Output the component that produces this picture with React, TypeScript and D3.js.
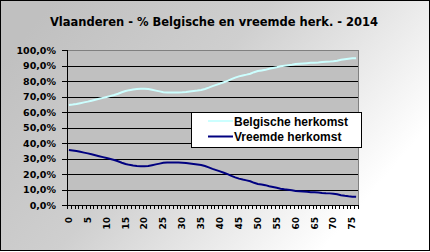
import React from "react";
import * as d3 from "d3";

const ages: number[] = Array.from({ length: 77 }, (_, i) => i);
const belgisch: number[] = [
  64.5, 64.8, 65.2, 65.7, 66.2, 66.7, 67.3, 67.9, 68.5, 69.1,
  69.7, 70.3, 71.0, 71.8, 72.7, 73.5, 74.1, 74.5, 74.8, 75.0,
  75.0, 74.8, 74.3, 73.8, 73.3, 72.8, 72.6, 72.6, 72.6, 72.6,
  72.7, 72.9, 73.2, 73.5, 73.8, 74.2, 74.8, 75.7, 76.7, 77.5,
  78.3, 79.2, 80.1, 81.2, 82.2, 83.0, 83.6, 84.1, 84.7, 85.7,
  86.4, 86.8, 87.2, 87.9, 88.4, 88.9, 89.5, 89.9, 90.2, 90.5,
  90.9, 91.1, 91.3, 91.5, 91.7, 91.8, 91.9, 92.2, 92.4, 92.5,
  92.7, 93.1, 93.7, 94.1, 94.4, 94.6, 94.7,
];
const vreemd: number[] = [
  35.5, 35.2, 34.8, 34.3, 33.8, 33.3, 32.7, 32.1, 31.5, 30.9,
  30.3, 29.7, 29.0, 28.2, 27.3, 26.5, 25.9, 25.5, 25.2, 25.0,
  25.0, 25.2, 25.7, 26.2, 26.7, 27.2, 27.4, 27.4, 27.4, 27.4,
  27.3, 27.1, 26.8, 26.5, 26.2, 25.8, 25.2, 24.3, 23.3, 22.5,
  21.7, 20.8, 19.9, 18.8, 17.8, 17.0, 16.4, 15.9, 15.3, 14.3,
  13.6, 13.2, 12.8, 12.1, 11.6, 11.1, 10.5, 10.1, 9.8, 9.5,
  9.1, 8.9, 8.7, 8.5, 8.3, 8.2, 8.1, 7.8, 7.6, 7.5,
  7.3, 6.9, 6.3, 5.9, 5.6, 5.4, 5.3,
];
const yTicks: number[] = [0, 10, 20, 30, 40, 50, 60, 70, 80, 90, 100];
const seriesNames: string[] = ["Belgische herkomst", "Vreemde herkomst"];
const seriesColors: string[] = ["#ccffff", "#000080"];
const title = "Vlaanderen - % Belgische en vreemde herk. - 2014";

export default function App() {
  const W = 430;
  const H = 252;
  const left = 67;
  const right = 358;
  const top = 50;
  const bottom = 205;

  const x = d3.scaleBand<number>().domain(ages).range([left, right]).padding(0);
  const y = d3.scaleLinear().domain([0, 100]).range([bottom, top]);
  const bw = x.bandwidth();
  const cx = (a: number) => (x(a) as number) + bw / 2;

  const line = d3
    .line<number>()
    .x((_, i) => cx(ages[i]))
    .y((d) => y(d));

  const pixelFont = "'DejaVu Sans', Verdana, sans-serif";
  const arialFont = "'Liberation Sans', Arial, sans-serif";

  const boundaries = [...ages.map((a) => x(a) as number), right];

  return (
    <div style={{ position: "absolute", left: 0, top: 0 }}>
      <svg width={W} height={H} style={{ display: "block" }}>
        <defs>
          <linearGradient id="bg" x1="0.05" y1="0.15" x2="0.95" y2="0.6">
            <stop offset="0" stopColor="#c0c0c0" />
            <stop offset="0.45" stopColor="#cfcfcf" />
            <stop offset="1" stopColor="#ffffff" />
          </linearGradient>
        </defs>
        <rect x={0.5} y={0.5} width={W - 1} height={H - 2} fill="url(#bg)" stroke="#000" strokeWidth={1} />
        <text
          x={214}
          y={26}
          textAnchor="middle"
          fontFamily={pixelFont}
          fontWeight="bold"
          fontSize={11.5}
          fill="#000"
        >
          {title}
        </text>

        {/* plot area */}
        <rect x={left} y={top} width={right - left} height={bottom - top} fill="#c0c0c0" />
        {yTicks
          .filter((t) => t > 0 && t < 100)
          .map((t) => (
            <line key={t} x1={left} x2={right} y1={Math.round(y(t)) + 0.5} y2={Math.round(y(t)) + 0.5} stroke="#000" strokeWidth={1} />
          ))}
        <line x1={left} x2={right + 0.5} y1={top + 0.5} y2={top + 0.5} stroke="#808080" />
        <line x1={right + 0.5} x2={right + 0.5} y1={top} y2={bottom} stroke="#808080" />
        <line x1={left + 0.5} x2={left + 0.5} y1={top} y2={bottom + 1} stroke="#000" />
        <line x1={left} x2={right + 1} y1={bottom + 0.5} y2={bottom + 0.5} stroke="#000" />

        {/* y ticks and labels */}
        {yTicks.map((t) => (
          <g key={t}>
            <line x1={62} x2={left} y1={Math.round(y(t)) + 0.5} y2={Math.round(y(t)) + 0.5} stroke="#000" />
            <text
              x={56}
              y={y(t) + 3.5}
              textAnchor="end"
              fontFamily={pixelFont}
              fontWeight="bold"
              fontSize={9.5}
              fill="#000"
            >
              {t.toFixed(1).replace(".", ",") + "%"}
            </text>
          </g>
        ))}

        {/* x ticks */}
        {boundaries.map((b, i) => (
          <line key={i} x1={Math.round(b) + 0.5} x2={Math.round(b) + 0.5} y1={bottom} y2={bottom + 4} stroke="#000" />
        ))}
        {ages
          .filter((a) => a % 5 === 0)
          .map((a) => (
            <text
              key={a}
              transform={`translate(${cx(a) + 3},${217}) rotate(-90)`}
              textAnchor="end"
              fontFamily={pixelFont}
              fontWeight="bold"
              fontSize={9}
              fill="#000"
            >
              {a}
            </text>
          ))}

        {/* series */}
        <path d={line(belgisch) ?? ""} fill="none" stroke={seriesColors[0]} strokeWidth={2} />
        <path d={line(vreemd) ?? ""} fill="none" stroke={seriesColors[1]} strokeWidth={2} />

        {/* legend */}
        <rect x={191.5} y={112.5} width={170} height={35} fill="#fff" stroke="#000" />
        {seriesNames.map((n, i) => (
          <g key={n}>
            <line x1={208} x2={233} y1={121 + i * 15.5} y2={121 + i * 15.5} stroke={seriesColors[i]} strokeWidth={2} />
            <text x={234} y={125.5 + i * 15.5} fontFamily={arialFont} fontWeight="bold" fontSize={12} fill="#000">
              {n}
            </text>
          </g>
        ))}
      </svg>
    </div>
  );
}
